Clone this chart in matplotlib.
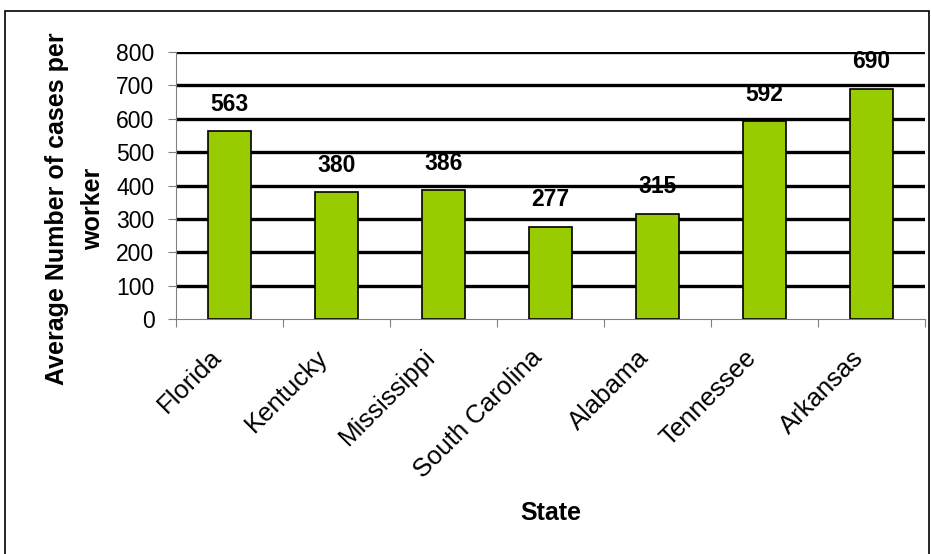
import matplotlib

matplotlib.use("Agg")

import matplotlib.pyplot as plt
from matplotlib.patches import Rectangle
from matplotlib.transforms import ScaledTranslation

STATES = [
    "Florida",
    "Kentucky",
    "Mississippi",
    "South Carolina",
    "Alabama",
    "Tennessee",
    "Arkansas",
]
CASES_PER_WORKER = [563, 380, 386, 277, 315, 592, 690]
Y_TICKS = [0, 100, 200, 300, 400, 500, 600, 700, 800]

BAR_COLOR = "#99cc00"

plt.rcParams["font.family"] = ["Liberation Sans", "DejaVu Sans"]

fig = plt.figure(figsize=(9.31, 5.54), dpi=100)
ax = fig.add_axes([0.189, 0.4242, 0.8045, 0.4819])

positions = range(len(STATES))
bars = ax.bar(positions, CASES_PER_WORKER, width=0.41, color=BAR_COLOR,
              edgecolor="black", linewidth=1.2, zorder=3)

for bar, value in zip(bars, CASES_PER_WORKER):
    ax.annotate(f"{value}", (bar.get_x() + bar.get_width() / 2, value),
                xytext=(0, 19.5), textcoords="offset points",
                ha="center", va="center", fontsize=16.5, fontweight="bold")

ax.set_xlim(-0.5, len(STATES) - 0.5)
ax.set_ylim(0, 800)
ax.set_yticks(Y_TICKS)
ax.set_yticklabels([str(t) for t in Y_TICKS], fontsize=16.5)
for y in Y_TICKS[1:]:
    ax.axhline(y, color="black", linewidth=2.4, zorder=1)

# category boundaries get the tick marks, names sit under the bars
ax.set_xticks([p - 0.5 for p in range(len(STATES) + 1)])
ax.set_xticklabels([])
ax.set_xticks(list(positions), minor=True)
ax.set_xticklabels(STATES, minor=True, rotation=45, ha="right", va="center",
                   rotation_mode="anchor", fontsize=18.5)
ax.tick_params(axis="x", which="major", length=6, color="#808080")
ax.tick_params(axis="x", which="minor", length=0, pad=25)
ax.tick_params(axis="y", length=6, color="#808080", pad=9.5)

# nudge the rotated names a little to the left of the bar centres
shift = ScaledTranslation(-0.12, 0, fig.dpi_scale_trans)
for tick in ax.xaxis.get_minor_ticks():
    tick.label1.set_transform(tick.label1.get_transform() + shift)

for side in ("top", "right"):
    ax.spines[side].set_visible(False)
ax.spines["left"].set_color("#808080")
ax.spines["bottom"].set_color("#808080")

ax.set_ylabel("Average Number of cases per\nworker", fontsize=18,
              fontweight="bold", linespacing=1.65)
ax.yaxis.set_label_coords(-0.094, 0.412)
ax.set_xlabel("State", fontsize=18, fontweight="bold")
ax.xaxis.set_label_coords(0.5, -0.68)

# chart frame
fig.patches.append(Rectangle((0.005, -0.02), 0.993, 1.0, transform=fig.transFigure,
                             fill=False, edgecolor="black", linewidth=1.2))

fig.savefig("out.png", dpi=100)
